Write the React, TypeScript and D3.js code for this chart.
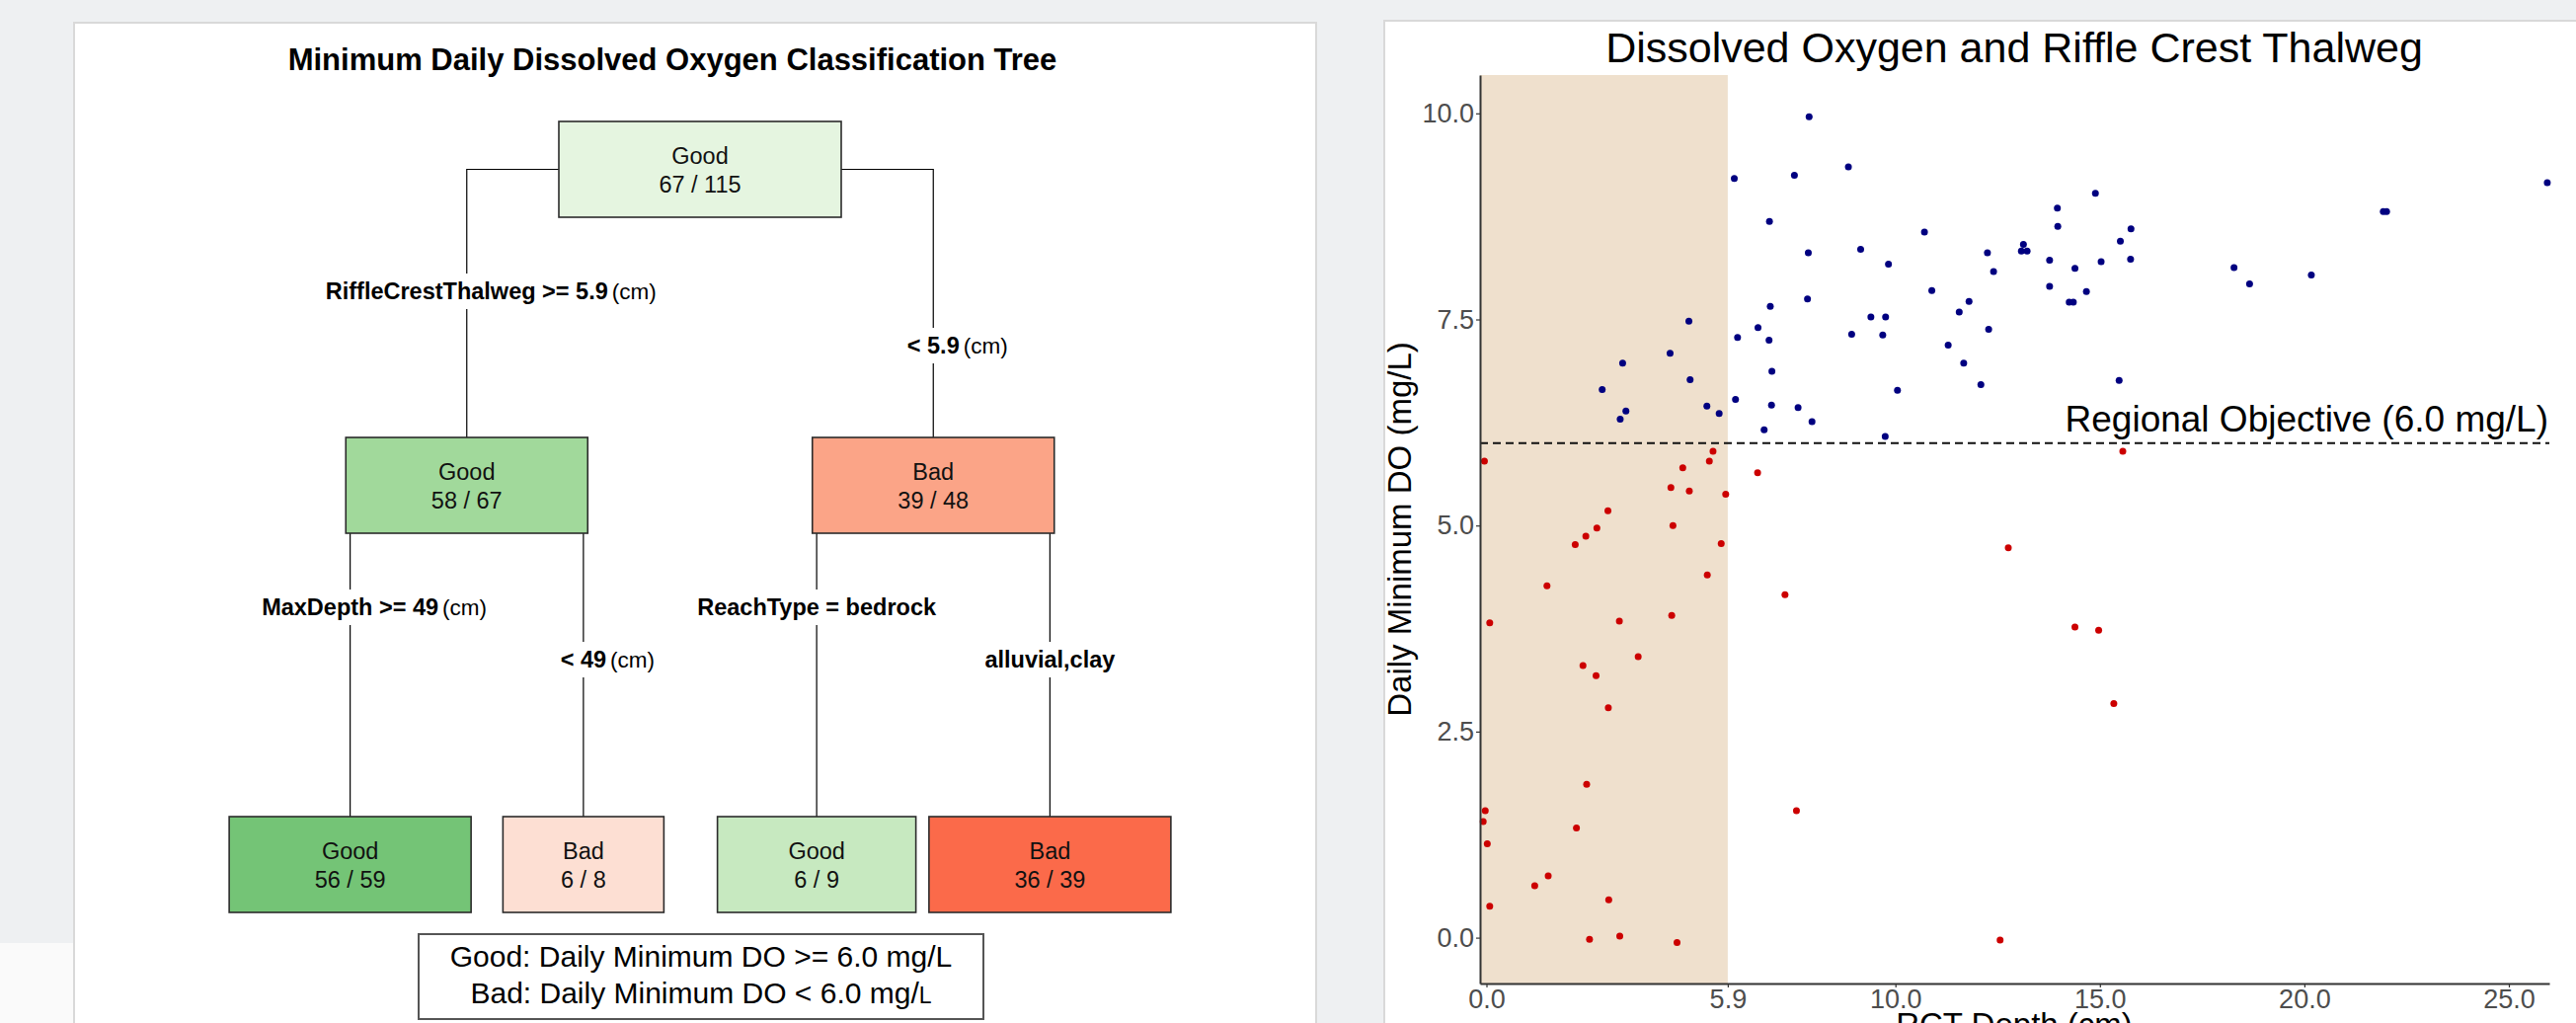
import * as React from "react";
import { useRef, useEffect } from "react";
import * as d3 from "d3";

// classification tree (rpart) nodes, listed parent before children
const nodeIds = ["root", "hiRCT", "loRCT", "deep", "shallow", "bedrock", "alluvial"];
const nodeParents = ["", "root", "root", "hiRCT", "hiRCT", "loRCT", "loRCT"];
const nodeClass = ["Good", "Good", "Bad", "Good", "Bad", "Good", "Bad"];
const nodeHits = [67, 58, 39, 56, 6, 6, 36];
const nodeTotals = [115, 67, 48, 59, 8, 9, 39];
const splitRules = ["", "RiffleCrestThalweg >= 5.9", "< 5.9", "MaxDepth >= 49", "< 49", "ReachType = bedrock", "alluvial,clay"];
const splitUnits = ["", "(cm)", "(cm)", "(cm)", "(cm)", "", ""];
const legendLines = ["Good: Daily Minimum DO >= 6.0 mg/L", "Bad: Daily Minimum DO < 6.0 mg/"];

// scatter: RCT depth (cm) vs daily minimum DO (mg/L)
const goodDepth = [
  6.06, 7.53, 6.92, 6.94, 6.64, 6.14, 6.91, 6.98, 4.95, 4.49, 3.33, 4.98, 2.83,
  7.89, 8.85, 14.89, 13.96, 13.97, 10.71, 9.15, 7.87, 12.25, 13.13, 13.08, 13.22, 9.83,
  12.4, 13.77, 14.39, 15.03, 13.77, 14.67, 14.25, 14.35, 10.89, 7.85, 11.8, 11.56, 9.4,
  9.76, 8.93, 9.69, 12.28, 11.29, 11.67, 12.09, 10.05,
  3.41, 3.27, 5.39, 5.69, 6.09, 6.97, 6.79, 7.62, 7.96, 9.75,
  25.94, 21.93, 22.01, 15.76, 15.5, 15.75, 18.28, 18.66, 20.17, 15.47,
];
const goodDO = [
  9.21, 9.25, 8.69, 7.66, 7.4, 7.28, 7.25, 6.87, 7.48, 7.09, 6.97, 6.77, 6.65,
  9.96, 9.35, 9.03, 8.85, 8.63, 8.56, 8.35, 8.31, 8.31, 8.41, 8.33, 8.33, 8.17,
  8.08, 8.22, 8.12, 8.2, 7.9, 7.84, 7.71, 7.71, 7.85, 7.75, 7.72, 7.59, 7.53,
  7.53, 7.32, 7.31, 7.38, 7.19, 6.97, 6.71, 6.64,
  6.39, 6.29, 6.45, 6.36, 6.53, 6.46, 6.16, 6.43, 6.26, 6.08,
  9.16, 8.81, 8.81, 8.6, 8.45, 8.23, 8.13, 7.93, 8.04, 6.76,
];
const badDepth = [
  -0.05, 5.54, 5.45, 4.8, 6.63, 4.51, 4.96, 5.85, 2.97, 2.7, 4.56, 2.43, 2.17, 5.74,
  5.4, 1.48, 7.3, 0.08, 3.25, 4.53, 3.71, 2.36, 2.68, 2.98,
  12.76, 14.39, 14.97,
  2.45, -0.03, -0.08, 2.2, 0.02, 1.51, 1.18, 2.99, 0.08, 2.52, 3.26, 4.66,
  7.58, 12.56, 15.56, 15.34,
];
const badDO = [
  5.78, 5.9, 5.78, 5.7, 5.64, 5.46, 5.42, 5.38, 5.18, 4.97, 5.0, 4.87, 4.77, 4.78,
  4.4, 4.27, 4.16, 3.82, 3.84, 3.91, 3.41, 3.3, 3.18, 2.79,
  4.73, 3.77, 3.73,
  1.86, 1.54, 1.41, 1.33, 1.14, 0.75, 0.63, 0.46, 0.38, -0.02, 0.02, -0.06,
  1.54, -0.03, 5.9, 2.84,
];
const xTicks = [0, 5.9, 10, 15, 20, 25];
const yTicks = [0, 2.5, 5, 7.5, 10];
const rctSplit = 5.9;
const doObjective = 6.0;

const nodeFill = ["#e5f5e0", "#a1d99b", "#fba487", "#74c476", "#fddfd3", "#c7e9c0", "#fb6a4a"];
const boxWidth = [286, 245, 245, 245, 163, 201, 245];

export default function App() {
  const ref = useRef<SVGSVGElement>(null);

  useEffect(() => {
    const svg = d3.select(ref.current);
    svg.selectAll("*").remove();
    svg.attr("font-family", "'Liberation Sans', Arial, Helvetica, sans-serif");

    // slide background + two white panels
    svg.append("rect").attr("width", 2609).attr("height", 1036).attr("fill", "#eef0f2");
    svg.append("rect").attr("x", 0).attr("y", 955).attr("width", 80).attr("height", 81).attr("fill", "#fafafa");
    svg.append("rect").attr("x", 75).attr("y", 23).attr("width", 1258).attr("height", 1040)
      .attr("fill", "#fff").attr("stroke", "#d9d9d9").attr("stroke-width", 2);
    svg.append("rect").attr("x", 1402).attr("y", 21).attr("width", 1230).attr("height", 1040)
      .attr("fill", "#fff").attr("stroke", "#d9d9d9").attr("stroke-width", 2);

    // ---------- classification tree ----------
    const tg = svg.append("g");
    tg.append("text")
      .attr("x", 681).attr("y", 71)
      .attr("text-anchor", "middle").attr("font-weight", "bold").attr("font-size", 31)
      .text("Minimum Daily Dissolved Oxygen Classification Tree");

    const table = nodeIds.map((id, i) => ({ id, parent: nodeParents[i] || null, i }));
    const root: any = d3.stratify<any>().id((d) => d.id).parentId((d) => d.parent)(table);
    d3.tree().size([945, 1]).separation(() => 1)(root);
    const left = 236.5;
    const boxTop = [123, 443, 827];
    const boxH = 97;
    const labelBase = [[0, 0], [303, 358], [623, 676]];
    const nodes = root.descendants();

    // connectors
    nodes.filter((n) => n.parent).forEach((n) => {
      const p = n.parent;
      const px = p.x + left;
      const cx = n.x + left;
      const side = cx < px ? -1 : 1;
      const sx = px + (side * boxWidth[p.data.i]) / 2;
      const py = boxTop[p.depth] + boxH / 2;
      tg.append("path")
        .attr("d", `M${sx},${py}H${cx}V${boxTop[n.depth]}`)
        .attr("fill", "none").attr("stroke", "#000").attr("stroke-width", 1.2);
    });

    // split labels with white backing
    nodes.filter((n) => n.parent).forEach((n) => {
      const i = n.data.i;
      const cx = n.x + left;
      const isLeft = cx < n.parent.x + left;
      const lg = tg.append("g").attr("transform", `translate(${cx},${labelBase[n.depth][isLeft ? 0 : 1]})`);
      const bg = lg.append("rect").attr("fill", "#fff");
      const bold = lg.append("text").attr("text-anchor", "middle").attr("font-weight", "bold")
        .attr("font-size", 23.5).text(splitRules[i]);
      const w = (bold.node() as SVGTextElement).getComputedTextLength();
      if (splitUnits[i]) {
        lg.append("text").attr("x", w / 2 + 4).attr("font-size", 22.5).text(splitUnits[i]);
      }
      const bb = (lg.node() as SVGGElement).getBBox();
      bg.attr("x", bb.x - 4).attr("y", bb.y - 5).attr("width", bb.width + 8).attr("height", bb.height + 10);
    });

    // node boxes
    nodes.forEach((n) => {
      const i = n.data.i;
      const cx = n.x + left;
      const w = boxWidth[i];
      const top = boxTop[n.depth];
      tg.append("rect")
        .attr("x", cx - w / 2).attr("y", top).attr("width", w).attr("height", boxH)
        .attr("fill", nodeFill[i]).attr("stroke", "#2b2b2b").attr("stroke-width", 1.6);
      tg.append("text").attr("x", cx).attr("y", top + boxH / 2 - 5.5)
        .attr("text-anchor", "middle").attr("font-size", 23.5).attr("fill", "#111").text(nodeClass[i]);
      tg.append("text").attr("x", cx).attr("y", top + boxH / 2 + 23)
        .attr("text-anchor", "middle").attr("font-size", 23.5).attr("fill", "#111")
        .text(`${nodeHits[i]} / ${nodeTotals[i]}`);
    });

    // legend
    tg.append("rect").attr("x", 424).attr("y", 946).attr("width", 572).attr("height", 86)
      .attr("fill", "#fff").attr("stroke", "#555").attr("stroke-width", 2);
    tg.append("text").attr("x", 710).attr("y", 979).attr("text-anchor", "middle")
      .attr("font-size", 30).text(legendLines[0]);
    const l2 = tg.append("text").attr("x", 710).attr("y", 1016).attr("text-anchor", "middle").attr("font-size", 30);
    l2.append("tspan").text(legendLines[1]);
    l2.append("tspan").attr("font-size", 23).text("L");

    // ---------- scatter ----------
    const x = d3.scaleLinear().domain([-0.157, 25.99]).range([1499, 2582]);
    const y = d3.scaleLinear().domain([-0.556, 10.465]).range([996, 76]);
    const sg = svg.append("g");

    sg.append("rect")
      .attr("x", x.range()[0]).attr("y", y.range()[1])
      .attr("width", x(rctSplit) - x.range()[0]).attr("height", y.range()[0] - y.range()[1])
      .attr("fill", "#efe0cd");

    sg.append("line")
      .attr("x1", x.range()[0]).attr("x2", x.range()[1]).attr("y1", y(doObjective)).attr("y2", y(doObjective))
      .attr("stroke", "#111").attr("stroke-width", 2).attr("stroke-dasharray", "8,5");

    sg.append("g").selectAll("circle").data(badDepth).join("circle")
      .attr("cx", (d) => x(d)).attr("cy", (d, i) => y(badDO[i])).attr("r", 3.5).attr("fill", "#cc0000");
    sg.append("g").selectAll("circle").data(goodDepth).join("circle")
      .attr("cx", (d) => x(d)).attr("cy", (d, i) => y(goodDO[i])).attr("r", 3.5).attr("fill", "#000080");

    const yAxis = sg.append("g").attr("transform", `translate(${x.range()[0]},0)`)
      .call(d3.axisLeft(y).tickValues(yTicks).tickFormat(d3.format(".1f")).tickSize(4).tickPadding(2).tickSizeOuter(0));
    const xAxis = sg.append("g").attr("transform", `translate(0,${y.range()[0]})`)
      .call(d3.axisBottom(x).tickValues(xTicks).tickFormat(d3.format(".1f")).tickSize(4).tickPadding(2).tickSizeOuter(0));
    [yAxis, xAxis].forEach((a) => {
      a.attr("font-family", null).attr("font-size", null);
      a.select(".domain").attr("stroke", "#333").attr("stroke-width", 2);
      a.selectAll(".tick line").attr("stroke", "#333").attr("stroke-width", 1.2);
      a.selectAll(".tick text").attr("fill", "#4d4d4d").attr("font-size", 27);
    });

    sg.append("text").attr("x", 2040).attr("y", 63).attr("text-anchor", "middle")
      .attr("font-size", 43).text("Dissolved Oxygen and Riffle Crest Thalweg");
    sg.append("text").attr("x", 2581).attr("y", 437).attr("text-anchor", "end")
      .attr("font-size", 37).text("Regional Objective (6.0 mg/L)");
    sg.append("text").attr("transform", "translate(1429,536) rotate(-90)").attr("text-anchor", "middle")
      .attr("font-size", 33).text("Daily Minimum DO (mg/L)");
    // axis title sits partly below the slide edge, as in the source image
    sg.append("text").attr("x", 2040).attr("y", 1049).attr("text-anchor", "middle")
      .attr("font-size", 33).text("RCT Depth (cm)");
  }, []);

  return (
    <svg ref={ref} width={2609} height={1036} style={{ position: "absolute", left: 0, top: 0, display: "block" }} />
  );
}
